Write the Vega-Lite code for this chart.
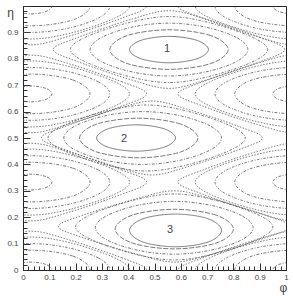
{
"$schema":"https://vega.github.io/schema/vega-lite/v6.json",
"width":263,"height":264,
"autosize":{"type":"none"},
"padding":{"left":23,"top":6,"right":7,"bottom":29},
"background":"white",
"config":{"view":{"stroke":"#222","strokeWidth":1},"font":"Liberation Sans"},
"datasets":{
"contours":[
{"ring":"P1-1","lev":1,"i":0,"phi":0.705,"eta":0.835},{"ring":"P1-1","lev":1,"i":1,"phi":0.661,"eta":0.87},{"ring":"P1-1","lev":1,"i":2,"phi":0.555,"eta":0.885},{"ring":"P1-1","lev":1,"i":3,"phi":0.449,"eta":0.87},{"ring":"P1-1","lev":1,"i":4,"phi":0.405,"eta":0.835},{"ring":"P1-1","lev":1,"i":5,"phi":0.449,"eta":0.8},{"ring":"P1-1","lev":1,"i":6,"phi":0.555,"eta":0.785},{"ring":"P1-1","lev":1,"i":7,"phi":0.661,"eta":0.8},
{"ring":"P1-2","lev":2,"i":0,"phi":0.78,"eta":0.835},{"ring":"P1-2","lev":2,"i":1,"phi":0.714,"eta":0.888},{"ring":"P1-2","lev":2,"i":2,"phi":0.555,"eta":0.91},{"ring":"P1-2","lev":2,"i":3,"phi":0.396,"eta":0.888},{"ring":"P1-2","lev":2,"i":4,"phi":0.33,"eta":0.835},{"ring":"P1-2","lev":2,"i":5,"phi":0.396,"eta":0.782},{"ring":"P1-2","lev":2,"i":6,"phi":0.555,"eta":0.76},{"ring":"P1-2","lev":2,"i":7,"phi":0.714,"eta":0.782},
{"ring":"P1-3","lev":3,"i":0,"phi":0.855,"eta":0.835},{"ring":"P1-3","lev":3,"i":1,"phi":0.811,"eta":0.881},{"ring":"P1-3","lev":3,"i":2,"phi":0.694,"eta":0.92},{"ring":"P1-3","lev":3,"i":3,"phi":0.555,"eta":0.935},{"ring":"P1-3","lev":3,"i":4,"phi":0.416,"eta":0.92},{"ring":"P1-3","lev":3,"i":5,"phi":0.299,"eta":0.881},{"ring":"P1-3","lev":3,"i":6,"phi":0.255,"eta":0.835},{"ring":"P1-3","lev":3,"i":7,"phi":0.299,"eta":0.789},{"ring":"P1-3","lev":3,"i":8,"phi":0.416,"eta":0.75},{"ring":"P1-3","lev":3,"i":9,"phi":0.555,"eta":0.735},{"ring":"P1-3","lev":3,"i":10,"phi":0.694,"eta":0.75},{"ring":"P1-3","lev":3,"i":11,"phi":0.811,"eta":0.789},
{"ring":"P1-4","lev":4,"i":0,"phi":0.93,"eta":0.835},{"ring":"P1-4","lev":4,"i":1,"phi":0.865,"eta":0.885},{"ring":"P1-4","lev":4,"i":2,"phi":0.704,"eta":0.938},{"ring":"P1-4","lev":4,"i":3,"phi":0.555,"eta":0.96},{"ring":"P1-4","lev":4,"i":4,"phi":0.406,"eta":0.938},{"ring":"P1-4","lev":4,"i":5,"phi":0.245,"eta":0.885},{"ring":"P1-4","lev":4,"i":6,"phi":0.18,"eta":0.835},{"ring":"P1-4","lev":4,"i":7,"phi":0.245,"eta":0.785},{"ring":"P1-4","lev":4,"i":8,"phi":0.406,"eta":0.732},{"ring":"P1-4","lev":4,"i":9,"phi":0.555,"eta":0.71},{"ring":"P1-4","lev":4,"i":10,"phi":0.704,"eta":0.732},{"ring":"P1-4","lev":4,"i":11,"phi":0.865,"eta":0.785},
{"ring":"P1-5","lev":5,"i":0,"phi":0.995,"eta":0.835},{"ring":"P1-5","lev":5,"i":1,"phi":0.901,"eta":0.881},{"ring":"P1-5","lev":5,"i":2,"phi":0.694,"eta":0.951},{"ring":"P1-5","lev":5,"i":3,"phi":0.555,"eta":0.982},{"ring":"P1-5","lev":5,"i":4,"phi":0.416,"eta":0.951},{"ring":"P1-5","lev":5,"i":5,"phi":0.209,"eta":0.881},{"ring":"P1-5","lev":5,"i":6,"phi":0.115,"eta":0.835},{"ring":"P1-5","lev":5,"i":7,"phi":0.209,"eta":0.789},{"ring":"P1-5","lev":5,"i":8,"phi":0.416,"eta":0.719},{"ring":"P1-5","lev":5,"i":9,"phi":0.555,"eta":0.688},{"ring":"P1-5","lev":5,"i":10,"phi":0.694,"eta":0.719},{"ring":"P1-5","lev":5,"i":11,"phi":0.901,"eta":0.789},
{"ring":"P2-1","lev":1,"i":0,"phi":0.58,"eta":0.5},{"ring":"P2-1","lev":1,"i":1,"phi":0.536,"eta":0.535},{"ring":"P2-1","lev":1,"i":2,"phi":0.43,"eta":0.55},{"ring":"P2-1","lev":1,"i":3,"phi":0.324,"eta":0.535},{"ring":"P2-1","lev":1,"i":4,"phi":0.28,"eta":0.5},{"ring":"P2-1","lev":1,"i":5,"phi":0.324,"eta":0.465},{"ring":"P2-1","lev":1,"i":6,"phi":0.43,"eta":0.45},{"ring":"P2-1","lev":1,"i":7,"phi":0.536,"eta":0.465},
{"ring":"P2-2","lev":2,"i":0,"phi":0.665,"eta":0.5},{"ring":"P2-2","lev":2,"i":1,"phi":0.599,"eta":0.553},{"ring":"P2-2","lev":2,"i":2,"phi":0.44,"eta":0.575},{"ring":"P2-2","lev":2,"i":3,"phi":0.281,"eta":0.553},{"ring":"P2-2","lev":2,"i":4,"phi":0.215,"eta":0.5},{"ring":"P2-2","lev":2,"i":5,"phi":0.281,"eta":0.447},{"ring":"P2-2","lev":2,"i":6,"phi":0.44,"eta":0.425},{"ring":"P2-2","lev":2,"i":7,"phi":0.599,"eta":0.447},
{"ring":"P2-3","lev":3,"i":0,"phi":0.755,"eta":0.5},{"ring":"P2-3","lev":3,"i":1,"phi":0.711,"eta":0.546},{"ring":"P2-3","lev":3,"i":2,"phi":0.594,"eta":0.585},{"ring":"P2-3","lev":3,"i":3,"phi":0.455,"eta":0.6},{"ring":"P2-3","lev":3,"i":4,"phi":0.316,"eta":0.585},{"ring":"P2-3","lev":3,"i":5,"phi":0.199,"eta":0.546},{"ring":"P2-3","lev":3,"i":6,"phi":0.155,"eta":0.5},{"ring":"P2-3","lev":3,"i":7,"phi":0.199,"eta":0.454},{"ring":"P2-3","lev":3,"i":8,"phi":0.316,"eta":0.415},{"ring":"P2-3","lev":3,"i":9,"phi":0.455,"eta":0.4},{"ring":"P2-3","lev":3,"i":10,"phi":0.594,"eta":0.415},{"ring":"P2-3","lev":3,"i":11,"phi":0.711,"eta":0.454},
{"ring":"P2-4","lev":4,"i":0,"phi":0.845,"eta":0.5},{"ring":"P2-4","lev":4,"i":1,"phi":0.78,"eta":0.55},{"ring":"P2-4","lev":4,"i":2,"phi":0.619,"eta":0.603},{"ring":"P2-4","lev":4,"i":3,"phi":0.47,"eta":0.625},{"ring":"P2-4","lev":4,"i":4,"phi":0.321,"eta":0.603},{"ring":"P2-4","lev":4,"i":5,"phi":0.16,"eta":0.55},{"ring":"P2-4","lev":4,"i":6,"phi":0.095,"eta":0.5},{"ring":"P2-4","lev":4,"i":7,"phi":0.16,"eta":0.45},{"ring":"P2-4","lev":4,"i":8,"phi":0.321,"eta":0.397},{"ring":"P2-4","lev":4,"i":9,"phi":0.47,"eta":0.375},{"ring":"P2-4","lev":4,"i":10,"phi":0.619,"eta":0.397},{"ring":"P2-4","lev":4,"i":11,"phi":0.78,"eta":0.45},
{"ring":"P2-5","lev":5,"i":0,"phi":0.91,"eta":0.5},{"ring":"P2-5","lev":5,"i":1,"phi":0.82,"eta":0.544},{"ring":"P2-5","lev":5,"i":2,"phi":0.622,"eta":0.61},{"ring":"P2-5","lev":5,"i":3,"phi":0.49,"eta":0.64},{"ring":"P2-5","lev":5,"i":4,"phi":0.358,"eta":0.61},{"ring":"P2-5","lev":5,"i":5,"phi":0.16,"eta":0.544},{"ring":"P2-5","lev":5,"i":6,"phi":0.07,"eta":0.5},{"ring":"P2-5","lev":5,"i":7,"phi":0.16,"eta":0.456},{"ring":"P2-5","lev":5,"i":8,"phi":0.358,"eta":0.39},{"ring":"P2-5","lev":5,"i":9,"phi":0.49,"eta":0.36},{"ring":"P2-5","lev":5,"i":10,"phi":0.622,"eta":0.39},{"ring":"P2-5","lev":5,"i":11,"phi":0.82,"eta":0.456},
{"ring":"P3-1","lev":1,"i":0,"phi":0.755,"eta":0.15},{"ring":"P3-1","lev":1,"i":1,"phi":0.704,"eta":0.194},{"ring":"P3-1","lev":1,"i":2,"phi":0.58,"eta":0.212},{"ring":"P3-1","lev":1,"i":3,"phi":0.456,"eta":0.194},{"ring":"P3-1","lev":1,"i":4,"phi":0.405,"eta":0.15},{"ring":"P3-1","lev":1,"i":5,"phi":0.456,"eta":0.106},{"ring":"P3-1","lev":1,"i":6,"phi":0.58,"eta":0.088},{"ring":"P3-1","lev":1,"i":7,"phi":0.704,"eta":0.106},
{"ring":"P3-2","lev":2,"i":0,"phi":0.8,"eta":0.155},{"ring":"P3-2","lev":2,"i":1,"phi":0.734,"eta":0.208},{"ring":"P3-2","lev":2,"i":2,"phi":0.575,"eta":0.23},{"ring":"P3-2","lev":2,"i":3,"phi":0.416,"eta":0.208},{"ring":"P3-2","lev":2,"i":4,"phi":0.35,"eta":0.155},{"ring":"P3-2","lev":2,"i":5,"phi":0.416,"eta":0.102},{"ring":"P3-2","lev":2,"i":6,"phi":0.575,"eta":0.08},{"ring":"P3-2","lev":2,"i":7,"phi":0.734,"eta":0.102},
{"ring":"P3-3","lev":3,"i":0,"phi":0.875,"eta":0.16},{"ring":"P3-3","lev":3,"i":1,"phi":0.831,"eta":0.206},{"ring":"P3-3","lev":3,"i":2,"phi":0.714,"eta":0.245},{"ring":"P3-3","lev":3,"i":3,"phi":0.575,"eta":0.26},{"ring":"P3-3","lev":3,"i":4,"phi":0.436,"eta":0.245},{"ring":"P3-3","lev":3,"i":5,"phi":0.319,"eta":0.206},{"ring":"P3-3","lev":3,"i":6,"phi":0.275,"eta":0.16},{"ring":"P3-3","lev":3,"i":7,"phi":0.319,"eta":0.114},{"ring":"P3-3","lev":3,"i":8,"phi":0.436,"eta":0.075},{"ring":"P3-3","lev":3,"i":9,"phi":0.575,"eta":0.06},{"ring":"P3-3","lev":3,"i":10,"phi":0.714,"eta":0.075},{"ring":"P3-3","lev":3,"i":11,"phi":0.831,"eta":0.114},
{"ring":"P3-4","lev":4,"i":0,"phi":0.95,"eta":0.163},{"ring":"P3-4","lev":4,"i":1,"phi":0.885,"eta":0.213},{"ring":"P3-4","lev":4,"i":2,"phi":0.724,"eta":0.266},{"ring":"P3-4","lev":4,"i":3,"phi":0.575,"eta":0.288},{"ring":"P3-4","lev":4,"i":4,"phi":0.426,"eta":0.266},{"ring":"P3-4","lev":4,"i":5,"phi":0.265,"eta":0.213},{"ring":"P3-4","lev":4,"i":6,"phi":0.2,"eta":0.163},{"ring":"P3-4","lev":4,"i":7,"phi":0.265,"eta":0.113},{"ring":"P3-4","lev":4,"i":8,"phi":0.426,"eta":0.06},{"ring":"P3-4","lev":4,"i":9,"phi":0.575,"eta":0.038},{"ring":"P3-4","lev":4,"i":10,"phi":0.724,"eta":0.06},{"ring":"P3-4","lev":4,"i":11,"phi":0.885,"eta":0.113},
{"ring":"P3-5","lev":5,"i":0,"phi":1.015,"eta":0.165},{"ring":"P3-5","lev":5,"i":1,"phi":0.921,"eta":0.208},{"ring":"P3-5","lev":5,"i":2,"phi":0.714,"eta":0.271},{"ring":"P3-5","lev":5,"i":3,"phi":0.575,"eta":0.3},{"ring":"P3-5","lev":5,"i":4,"phi":0.436,"eta":0.271},{"ring":"P3-5","lev":5,"i":5,"phi":0.229,"eta":0.208},{"ring":"P3-5","lev":5,"i":6,"phi":0.135,"eta":0.165},{"ring":"P3-5","lev":5,"i":7,"phi":0.229,"eta":0.122},{"ring":"P3-5","lev":5,"i":8,"phi":0.436,"eta":0.059},{"ring":"P3-5","lev":5,"i":9,"phi":0.575,"eta":0.03},{"ring":"P3-5","lev":5,"i":10,"phi":0.714,"eta":0.059},{"ring":"P3-5","lev":5,"i":11,"phi":0.921,"eta":0.122},
{"ring":"QaL-1","lev":3,"i":0,"phi":0.11,"eta":0},{"ring":"QaL-1","lev":3,"i":1,"phi":0.087,"eta":0.021},{"ring":"QaL-1","lev":3,"i":2,"phi":0.03,"eta":0.03},{"ring":"QaL-1","lev":3,"i":3,"phi":-0.027,"eta":0.021},{"ring":"QaL-1","lev":3,"i":4,"phi":-0.05,"eta":0},{"ring":"QaL-1","lev":3,"i":5,"phi":-0.027,"eta":-0.021},{"ring":"QaL-1","lev":3,"i":6,"phi":0.03,"eta":-0.03},{"ring":"QaL-1","lev":3,"i":7,"phi":0.087,"eta":-0.021},
{"ring":"QaL-2","lev":3,"i":0,"phi":0.255,"eta":0},{"ring":"QaL-2","lev":3,"i":1,"phi":0.189,"eta":0.053},{"ring":"QaL-2","lev":3,"i":2,"phi":0.03,"eta":0.075},{"ring":"QaL-2","lev":3,"i":3,"phi":-0.129,"eta":0.053},{"ring":"QaL-2","lev":3,"i":4,"phi":-0.195,"eta":0},{"ring":"QaL-2","lev":3,"i":5,"phi":-0.129,"eta":-0.053},{"ring":"QaL-2","lev":3,"i":6,"phi":0.03,"eta":-0.075},{"ring":"QaL-2","lev":3,"i":7,"phi":0.189,"eta":-0.053},
{"ring":"QaL-3","lev":4,"i":0,"phi":0.33,"eta":0},{"ring":"QaL-3","lev":4,"i":1,"phi":0.286,"eta":0.046},{"ring":"QaL-3","lev":4,"i":2,"phi":0.169,"eta":0.085},{"ring":"QaL-3","lev":4,"i":3,"phi":0.03,"eta":0.1},{"ring":"QaL-3","lev":4,"i":4,"phi":-0.109,"eta":0.085},{"ring":"QaL-3","lev":4,"i":5,"phi":-0.226,"eta":0.046},{"ring":"QaL-3","lev":4,"i":6,"phi":-0.27,"eta":0},{"ring":"QaL-3","lev":4,"i":7,"phi":-0.226,"eta":-0.046},{"ring":"QaL-3","lev":4,"i":8,"phi":-0.109,"eta":-0.085},{"ring":"QaL-3","lev":4,"i":9,"phi":0.03,"eta":-0.1},{"ring":"QaL-3","lev":4,"i":10,"phi":0.169,"eta":-0.085},{"ring":"QaL-3","lev":4,"i":11,"phi":0.286,"eta":-0.046},
{"ring":"QaL-4","lev":5,"i":0,"phi":0.405,"eta":0},{"ring":"QaL-4","lev":5,"i":1,"phi":0.34,"eta":0.05},{"ring":"QaL-4","lev":5,"i":2,"phi":0.179,"eta":0.103},{"ring":"QaL-4","lev":5,"i":3,"phi":0.03,"eta":0.125},{"ring":"QaL-4","lev":5,"i":4,"phi":-0.119,"eta":0.103},{"ring":"QaL-4","lev":5,"i":5,"phi":-0.28,"eta":0.05},{"ring":"QaL-4","lev":5,"i":6,"phi":-0.345,"eta":0},{"ring":"QaL-4","lev":5,"i":7,"phi":-0.28,"eta":-0.05},{"ring":"QaL-4","lev":5,"i":8,"phi":-0.119,"eta":-0.103},{"ring":"QaL-4","lev":5,"i":9,"phi":0.03,"eta":-0.125},{"ring":"QaL-4","lev":5,"i":10,"phi":0.179,"eta":-0.103},{"ring":"QaL-4","lev":5,"i":11,"phi":0.34,"eta":-0.05},
{"ring":"QaL-5","lev":5,"i":0,"phi":0.47,"eta":0},{"ring":"QaL-5","lev":5,"i":1,"phi":0.376,"eta":0.046},{"ring":"QaL-5","lev":5,"i":2,"phi":0.169,"eta":0.116},{"ring":"QaL-5","lev":5,"i":3,"phi":0.03,"eta":0.147},{"ring":"QaL-5","lev":5,"i":4,"phi":-0.109,"eta":0.116},{"ring":"QaL-5","lev":5,"i":5,"phi":-0.316,"eta":0.046},{"ring":"QaL-5","lev":5,"i":6,"phi":-0.41,"eta":0},{"ring":"QaL-5","lev":5,"i":7,"phi":-0.316,"eta":-0.046},{"ring":"QaL-5","lev":5,"i":8,"phi":-0.109,"eta":-0.116},{"ring":"QaL-5","lev":5,"i":9,"phi":0.03,"eta":-0.147},{"ring":"QaL-5","lev":5,"i":10,"phi":0.169,"eta":-0.116},{"ring":"QaL-5","lev":5,"i":11,"phi":0.376,"eta":-0.046},
{"ring":"QbL-1","lev":3,"i":0,"phi":0.11,"eta":0.333},{"ring":"QbL-1","lev":3,"i":1,"phi":0.087,"eta":0.354},{"ring":"QbL-1","lev":3,"i":2,"phi":0.03,"eta":0.363},{"ring":"QbL-1","lev":3,"i":3,"phi":-0.027,"eta":0.354},{"ring":"QbL-1","lev":3,"i":4,"phi":-0.05,"eta":0.333},{"ring":"QbL-1","lev":3,"i":5,"phi":-0.027,"eta":0.312},{"ring":"QbL-1","lev":3,"i":6,"phi":0.03,"eta":0.303},{"ring":"QbL-1","lev":3,"i":7,"phi":0.087,"eta":0.312},
{"ring":"QbL-2","lev":3,"i":0,"phi":0.255,"eta":0.333},{"ring":"QbL-2","lev":3,"i":1,"phi":0.189,"eta":0.386},{"ring":"QbL-2","lev":3,"i":2,"phi":0.03,"eta":0.408},{"ring":"QbL-2","lev":3,"i":3,"phi":-0.129,"eta":0.386},{"ring":"QbL-2","lev":3,"i":4,"phi":-0.195,"eta":0.333},{"ring":"QbL-2","lev":3,"i":5,"phi":-0.129,"eta":0.28},{"ring":"QbL-2","lev":3,"i":6,"phi":0.03,"eta":0.258},{"ring":"QbL-2","lev":3,"i":7,"phi":0.189,"eta":0.28},
{"ring":"QbL-3","lev":4,"i":0,"phi":0.33,"eta":0.333},{"ring":"QbL-3","lev":4,"i":1,"phi":0.286,"eta":0.379},{"ring":"QbL-3","lev":4,"i":2,"phi":0.169,"eta":0.418},{"ring":"QbL-3","lev":4,"i":3,"phi":0.03,"eta":0.433},{"ring":"QbL-3","lev":4,"i":4,"phi":-0.109,"eta":0.418},{"ring":"QbL-3","lev":4,"i":5,"phi":-0.226,"eta":0.379},{"ring":"QbL-3","lev":4,"i":6,"phi":-0.27,"eta":0.333},{"ring":"QbL-3","lev":4,"i":7,"phi":-0.226,"eta":0.287},{"ring":"QbL-3","lev":4,"i":8,"phi":-0.109,"eta":0.248},{"ring":"QbL-3","lev":4,"i":9,"phi":0.03,"eta":0.233},{"ring":"QbL-3","lev":4,"i":10,"phi":0.169,"eta":0.248},{"ring":"QbL-3","lev":4,"i":11,"phi":0.286,"eta":0.287},
{"ring":"QbL-4","lev":5,"i":0,"phi":0.405,"eta":0.333},{"ring":"QbL-4","lev":5,"i":1,"phi":0.34,"eta":0.383},{"ring":"QbL-4","lev":5,"i":2,"phi":0.179,"eta":0.436},{"ring":"QbL-4","lev":5,"i":3,"phi":0.03,"eta":0.458},{"ring":"QbL-4","lev":5,"i":4,"phi":-0.119,"eta":0.436},{"ring":"QbL-4","lev":5,"i":5,"phi":-0.28,"eta":0.383},{"ring":"QbL-4","lev":5,"i":6,"phi":-0.345,"eta":0.333},{"ring":"QbL-4","lev":5,"i":7,"phi":-0.28,"eta":0.283},{"ring":"QbL-4","lev":5,"i":8,"phi":-0.119,"eta":0.23},{"ring":"QbL-4","lev":5,"i":9,"phi":0.03,"eta":0.208},{"ring":"QbL-4","lev":5,"i":10,"phi":0.179,"eta":0.23},{"ring":"QbL-4","lev":5,"i":11,"phi":0.34,"eta":0.283},
{"ring":"QbL-5","lev":5,"i":0,"phi":0.47,"eta":0.333},{"ring":"QbL-5","lev":5,"i":1,"phi":0.376,"eta":0.379},{"ring":"QbL-5","lev":5,"i":2,"phi":0.169,"eta":0.449},{"ring":"QbL-5","lev":5,"i":3,"phi":0.03,"eta":0.48},{"ring":"QbL-5","lev":5,"i":4,"phi":-0.109,"eta":0.449},{"ring":"QbL-5","lev":5,"i":5,"phi":-0.316,"eta":0.379},{"ring":"QbL-5","lev":5,"i":6,"phi":-0.41,"eta":0.333},{"ring":"QbL-5","lev":5,"i":7,"phi":-0.316,"eta":0.287},{"ring":"QbL-5","lev":5,"i":8,"phi":-0.109,"eta":0.217},{"ring":"QbL-5","lev":5,"i":9,"phi":0.03,"eta":0.186},{"ring":"QbL-5","lev":5,"i":10,"phi":0.169,"eta":0.217},{"ring":"QbL-5","lev":5,"i":11,"phi":0.376,"eta":0.287},
{"ring":"QcL-1","lev":3,"i":0,"phi":0.11,"eta":0.667},{"ring":"QcL-1","lev":3,"i":1,"phi":0.087,"eta":0.688},{"ring":"QcL-1","lev":3,"i":2,"phi":0.03,"eta":0.697},{"ring":"QcL-1","lev":3,"i":3,"phi":-0.027,"eta":0.688},{"ring":"QcL-1","lev":3,"i":4,"phi":-0.05,"eta":0.667},{"ring":"QcL-1","lev":3,"i":5,"phi":-0.027,"eta":0.646},{"ring":"QcL-1","lev":3,"i":6,"phi":0.03,"eta":0.637},{"ring":"QcL-1","lev":3,"i":7,"phi":0.087,"eta":0.646},
{"ring":"QcL-2","lev":3,"i":0,"phi":0.255,"eta":0.667},{"ring":"QcL-2","lev":3,"i":1,"phi":0.189,"eta":0.72},{"ring":"QcL-2","lev":3,"i":2,"phi":0.03,"eta":0.742},{"ring":"QcL-2","lev":3,"i":3,"phi":-0.129,"eta":0.72},{"ring":"QcL-2","lev":3,"i":4,"phi":-0.195,"eta":0.667},{"ring":"QcL-2","lev":3,"i":5,"phi":-0.129,"eta":0.614},{"ring":"QcL-2","lev":3,"i":6,"phi":0.03,"eta":0.592},{"ring":"QcL-2","lev":3,"i":7,"phi":0.189,"eta":0.614},
{"ring":"QcL-3","lev":4,"i":0,"phi":0.33,"eta":0.667},{"ring":"QcL-3","lev":4,"i":1,"phi":0.286,"eta":0.713},{"ring":"QcL-3","lev":4,"i":2,"phi":0.169,"eta":0.752},{"ring":"QcL-3","lev":4,"i":3,"phi":0.03,"eta":0.767},{"ring":"QcL-3","lev":4,"i":4,"phi":-0.109,"eta":0.752},{"ring":"QcL-3","lev":4,"i":5,"phi":-0.226,"eta":0.713},{"ring":"QcL-3","lev":4,"i":6,"phi":-0.27,"eta":0.667},{"ring":"QcL-3","lev":4,"i":7,"phi":-0.226,"eta":0.621},{"ring":"QcL-3","lev":4,"i":8,"phi":-0.109,"eta":0.582},{"ring":"QcL-3","lev":4,"i":9,"phi":0.03,"eta":0.567},{"ring":"QcL-3","lev":4,"i":10,"phi":0.169,"eta":0.582},{"ring":"QcL-3","lev":4,"i":11,"phi":0.286,"eta":0.621},
{"ring":"QcL-4","lev":5,"i":0,"phi":0.405,"eta":0.667},{"ring":"QcL-4","lev":5,"i":1,"phi":0.34,"eta":0.717},{"ring":"QcL-4","lev":5,"i":2,"phi":0.179,"eta":0.77},{"ring":"QcL-4","lev":5,"i":3,"phi":0.03,"eta":0.792},{"ring":"QcL-4","lev":5,"i":4,"phi":-0.119,"eta":0.77},{"ring":"QcL-4","lev":5,"i":5,"phi":-0.28,"eta":0.717},{"ring":"QcL-4","lev":5,"i":6,"phi":-0.345,"eta":0.667},{"ring":"QcL-4","lev":5,"i":7,"phi":-0.28,"eta":0.617},{"ring":"QcL-4","lev":5,"i":8,"phi":-0.119,"eta":0.564},{"ring":"QcL-4","lev":5,"i":9,"phi":0.03,"eta":0.542},{"ring":"QcL-4","lev":5,"i":10,"phi":0.179,"eta":0.564},{"ring":"QcL-4","lev":5,"i":11,"phi":0.34,"eta":0.617},
{"ring":"QcL-5","lev":5,"i":0,"phi":0.47,"eta":0.667},{"ring":"QcL-5","lev":5,"i":1,"phi":0.376,"eta":0.713},{"ring":"QcL-5","lev":5,"i":2,"phi":0.169,"eta":0.783},{"ring":"QcL-5","lev":5,"i":3,"phi":0.03,"eta":0.814},{"ring":"QcL-5","lev":5,"i":4,"phi":-0.109,"eta":0.783},{"ring":"QcL-5","lev":5,"i":5,"phi":-0.316,"eta":0.713},{"ring":"QcL-5","lev":5,"i":6,"phi":-0.41,"eta":0.667},{"ring":"QcL-5","lev":5,"i":7,"phi":-0.316,"eta":0.621},{"ring":"QcL-5","lev":5,"i":8,"phi":-0.109,"eta":0.551},{"ring":"QcL-5","lev":5,"i":9,"phi":0.03,"eta":0.52},{"ring":"QcL-5","lev":5,"i":10,"phi":0.169,"eta":0.551},{"ring":"QcL-5","lev":5,"i":11,"phi":0.376,"eta":0.621},
{"ring":"QdL-1","lev":3,"i":0,"phi":0.11,"eta":1},{"ring":"QdL-1","lev":3,"i":1,"phi":0.087,"eta":1.021},{"ring":"QdL-1","lev":3,"i":2,"phi":0.03,"eta":1.03},{"ring":"QdL-1","lev":3,"i":3,"phi":-0.027,"eta":1.021},{"ring":"QdL-1","lev":3,"i":4,"phi":-0.05,"eta":1},{"ring":"QdL-1","lev":3,"i":5,"phi":-0.027,"eta":0.979},{"ring":"QdL-1","lev":3,"i":6,"phi":0.03,"eta":0.97},{"ring":"QdL-1","lev":3,"i":7,"phi":0.087,"eta":0.979},
{"ring":"QdL-2","lev":3,"i":0,"phi":0.255,"eta":1},{"ring":"QdL-2","lev":3,"i":1,"phi":0.189,"eta":1.053},{"ring":"QdL-2","lev":3,"i":2,"phi":0.03,"eta":1.075},{"ring":"QdL-2","lev":3,"i":3,"phi":-0.129,"eta":1.053},{"ring":"QdL-2","lev":3,"i":4,"phi":-0.195,"eta":1},{"ring":"QdL-2","lev":3,"i":5,"phi":-0.129,"eta":0.947},{"ring":"QdL-2","lev":3,"i":6,"phi":0.03,"eta":0.925},{"ring":"QdL-2","lev":3,"i":7,"phi":0.189,"eta":0.947},
{"ring":"QdL-3","lev":4,"i":0,"phi":0.33,"eta":1},{"ring":"QdL-3","lev":4,"i":1,"phi":0.286,"eta":1.046},{"ring":"QdL-3","lev":4,"i":2,"phi":0.169,"eta":1.085},{"ring":"QdL-3","lev":4,"i":3,"phi":0.03,"eta":1.1},{"ring":"QdL-3","lev":4,"i":4,"phi":-0.109,"eta":1.085},{"ring":"QdL-3","lev":4,"i":5,"phi":-0.226,"eta":1.046},{"ring":"QdL-3","lev":4,"i":6,"phi":-0.27,"eta":1},{"ring":"QdL-3","lev":4,"i":7,"phi":-0.226,"eta":0.954},{"ring":"QdL-3","lev":4,"i":8,"phi":-0.109,"eta":0.915},{"ring":"QdL-3","lev":4,"i":9,"phi":0.03,"eta":0.9},{"ring":"QdL-3","lev":4,"i":10,"phi":0.169,"eta":0.915},{"ring":"QdL-3","lev":4,"i":11,"phi":0.286,"eta":0.954},
{"ring":"QdL-4","lev":5,"i":0,"phi":0.405,"eta":1},{"ring":"QdL-4","lev":5,"i":1,"phi":0.34,"eta":1.05},{"ring":"QdL-4","lev":5,"i":2,"phi":0.179,"eta":1.103},{"ring":"QdL-4","lev":5,"i":3,"phi":0.03,"eta":1.125},{"ring":"QdL-4","lev":5,"i":4,"phi":-0.119,"eta":1.103},{"ring":"QdL-4","lev":5,"i":5,"phi":-0.28,"eta":1.05},{"ring":"QdL-4","lev":5,"i":6,"phi":-0.345,"eta":1},{"ring":"QdL-4","lev":5,"i":7,"phi":-0.28,"eta":0.95},{"ring":"QdL-4","lev":5,"i":8,"phi":-0.119,"eta":0.897},{"ring":"QdL-4","lev":5,"i":9,"phi":0.03,"eta":0.875},{"ring":"QdL-4","lev":5,"i":10,"phi":0.179,"eta":0.897},{"ring":"QdL-4","lev":5,"i":11,"phi":0.34,"eta":0.95},
{"ring":"QdL-5","lev":5,"i":0,"phi":0.47,"eta":1},{"ring":"QdL-5","lev":5,"i":1,"phi":0.376,"eta":1.046},{"ring":"QdL-5","lev":5,"i":2,"phi":0.169,"eta":1.116},{"ring":"QdL-5","lev":5,"i":3,"phi":0.03,"eta":1.147},{"ring":"QdL-5","lev":5,"i":4,"phi":-0.109,"eta":1.116},{"ring":"QdL-5","lev":5,"i":5,"phi":-0.316,"eta":1.046},{"ring":"QdL-5","lev":5,"i":6,"phi":-0.41,"eta":1},{"ring":"QdL-5","lev":5,"i":7,"phi":-0.316,"eta":0.954},{"ring":"QdL-5","lev":5,"i":8,"phi":-0.109,"eta":0.884},{"ring":"QdL-5","lev":5,"i":9,"phi":0.03,"eta":0.853},{"ring":"QdL-5","lev":5,"i":10,"phi":0.169,"eta":0.884},{"ring":"QdL-5","lev":5,"i":11,"phi":0.376,"eta":0.954},
{"ring":"QaR-1","lev":3,"i":0,"phi":1.11,"eta":0},{"ring":"QaR-1","lev":3,"i":1,"phi":1.087,"eta":0.021},{"ring":"QaR-1","lev":3,"i":2,"phi":1.03,"eta":0.03},{"ring":"QaR-1","lev":3,"i":3,"phi":0.973,"eta":0.021},{"ring":"QaR-1","lev":3,"i":4,"phi":0.95,"eta":0},{"ring":"QaR-1","lev":3,"i":5,"phi":0.973,"eta":-0.021},{"ring":"QaR-1","lev":3,"i":6,"phi":1.03,"eta":-0.03},{"ring":"QaR-1","lev":3,"i":7,"phi":1.087,"eta":-0.021},
{"ring":"QaR-2","lev":3,"i":0,"phi":1.255,"eta":0},{"ring":"QaR-2","lev":3,"i":1,"phi":1.189,"eta":0.053},{"ring":"QaR-2","lev":3,"i":2,"phi":1.03,"eta":0.075},{"ring":"QaR-2","lev":3,"i":3,"phi":0.871,"eta":0.053},{"ring":"QaR-2","lev":3,"i":4,"phi":0.805,"eta":0},{"ring":"QaR-2","lev":3,"i":5,"phi":0.871,"eta":-0.053},{"ring":"QaR-2","lev":3,"i":6,"phi":1.03,"eta":-0.075},{"ring":"QaR-2","lev":3,"i":7,"phi":1.189,"eta":-0.053},
{"ring":"QaR-3","lev":4,"i":0,"phi":1.33,"eta":0},{"ring":"QaR-3","lev":4,"i":1,"phi":1.286,"eta":0.046},{"ring":"QaR-3","lev":4,"i":2,"phi":1.169,"eta":0.085},{"ring":"QaR-3","lev":4,"i":3,"phi":1.03,"eta":0.1},{"ring":"QaR-3","lev":4,"i":4,"phi":0.891,"eta":0.085},{"ring":"QaR-3","lev":4,"i":5,"phi":0.774,"eta":0.046},{"ring":"QaR-3","lev":4,"i":6,"phi":0.73,"eta":0},{"ring":"QaR-3","lev":4,"i":7,"phi":0.774,"eta":-0.046},{"ring":"QaR-3","lev":4,"i":8,"phi":0.891,"eta":-0.085},{"ring":"QaR-3","lev":4,"i":9,"phi":1.03,"eta":-0.1},{"ring":"QaR-3","lev":4,"i":10,"phi":1.169,"eta":-0.085},{"ring":"QaR-3","lev":4,"i":11,"phi":1.286,"eta":-0.046},
{"ring":"QaR-4","lev":5,"i":0,"phi":1.405,"eta":0},{"ring":"QaR-4","lev":5,"i":1,"phi":1.34,"eta":0.05},{"ring":"QaR-4","lev":5,"i":2,"phi":1.179,"eta":0.103},{"ring":"QaR-4","lev":5,"i":3,"phi":1.03,"eta":0.125},{"ring":"QaR-4","lev":5,"i":4,"phi":0.881,"eta":0.103},{"ring":"QaR-4","lev":5,"i":5,"phi":0.72,"eta":0.05},{"ring":"QaR-4","lev":5,"i":6,"phi":0.655,"eta":0},{"ring":"QaR-4","lev":5,"i":7,"phi":0.72,"eta":-0.05},{"ring":"QaR-4","lev":5,"i":8,"phi":0.881,"eta":-0.103},{"ring":"QaR-4","lev":5,"i":9,"phi":1.03,"eta":-0.125},{"ring":"QaR-4","lev":5,"i":10,"phi":1.179,"eta":-0.103},{"ring":"QaR-4","lev":5,"i":11,"phi":1.34,"eta":-0.05},
{"ring":"QaR-5","lev":5,"i":0,"phi":1.47,"eta":0},{"ring":"QaR-5","lev":5,"i":1,"phi":1.376,"eta":0.046},{"ring":"QaR-5","lev":5,"i":2,"phi":1.169,"eta":0.116},{"ring":"QaR-5","lev":5,"i":3,"phi":1.03,"eta":0.147},{"ring":"QaR-5","lev":5,"i":4,"phi":0.891,"eta":0.116},{"ring":"QaR-5","lev":5,"i":5,"phi":0.684,"eta":0.046},{"ring":"QaR-5","lev":5,"i":6,"phi":0.59,"eta":0},{"ring":"QaR-5","lev":5,"i":7,"phi":0.684,"eta":-0.046},{"ring":"QaR-5","lev":5,"i":8,"phi":0.891,"eta":-0.116},{"ring":"QaR-5","lev":5,"i":9,"phi":1.03,"eta":-0.147},{"ring":"QaR-5","lev":5,"i":10,"phi":1.169,"eta":-0.116},{"ring":"QaR-5","lev":5,"i":11,"phi":1.376,"eta":-0.046},
{"ring":"QbR-1","lev":3,"i":0,"phi":1.11,"eta":0.333},{"ring":"QbR-1","lev":3,"i":1,"phi":1.087,"eta":0.354},{"ring":"QbR-1","lev":3,"i":2,"phi":1.03,"eta":0.363},{"ring":"QbR-1","lev":3,"i":3,"phi":0.973,"eta":0.354},{"ring":"QbR-1","lev":3,"i":4,"phi":0.95,"eta":0.333},{"ring":"QbR-1","lev":3,"i":5,"phi":0.973,"eta":0.312},{"ring":"QbR-1","lev":3,"i":6,"phi":1.03,"eta":0.303},{"ring":"QbR-1","lev":3,"i":7,"phi":1.087,"eta":0.312},
{"ring":"QbR-2","lev":3,"i":0,"phi":1.255,"eta":0.333},{"ring":"QbR-2","lev":3,"i":1,"phi":1.189,"eta":0.386},{"ring":"QbR-2","lev":3,"i":2,"phi":1.03,"eta":0.408},{"ring":"QbR-2","lev":3,"i":3,"phi":0.871,"eta":0.386},{"ring":"QbR-2","lev":3,"i":4,"phi":0.805,"eta":0.333},{"ring":"QbR-2","lev":3,"i":5,"phi":0.871,"eta":0.28},{"ring":"QbR-2","lev":3,"i":6,"phi":1.03,"eta":0.258},{"ring":"QbR-2","lev":3,"i":7,"phi":1.189,"eta":0.28},
{"ring":"QbR-3","lev":4,"i":0,"phi":1.33,"eta":0.333},{"ring":"QbR-3","lev":4,"i":1,"phi":1.286,"eta":0.379},{"ring":"QbR-3","lev":4,"i":2,"phi":1.169,"eta":0.418},{"ring":"QbR-3","lev":4,"i":3,"phi":1.03,"eta":0.433},{"ring":"QbR-3","lev":4,"i":4,"phi":0.891,"eta":0.418},{"ring":"QbR-3","lev":4,"i":5,"phi":0.774,"eta":0.379},{"ring":"QbR-3","lev":4,"i":6,"phi":0.73,"eta":0.333},{"ring":"QbR-3","lev":4,"i":7,"phi":0.774,"eta":0.287},{"ring":"QbR-3","lev":4,"i":8,"phi":0.891,"eta":0.248},{"ring":"QbR-3","lev":4,"i":9,"phi":1.03,"eta":0.233},{"ring":"QbR-3","lev":4,"i":10,"phi":1.169,"eta":0.248},{"ring":"QbR-3","lev":4,"i":11,"phi":1.286,"eta":0.287},
{"ring":"QbR-4","lev":5,"i":0,"phi":1.405,"eta":0.333},{"ring":"QbR-4","lev":5,"i":1,"phi":1.34,"eta":0.383},{"ring":"QbR-4","lev":5,"i":2,"phi":1.179,"eta":0.436},{"ring":"QbR-4","lev":5,"i":3,"phi":1.03,"eta":0.458},{"ring":"QbR-4","lev":5,"i":4,"phi":0.881,"eta":0.436},{"ring":"QbR-4","lev":5,"i":5,"phi":0.72,"eta":0.383},{"ring":"QbR-4","lev":5,"i":6,"phi":0.655,"eta":0.333},{"ring":"QbR-4","lev":5,"i":7,"phi":0.72,"eta":0.283},{"ring":"QbR-4","lev":5,"i":8,"phi":0.881,"eta":0.23},{"ring":"QbR-4","lev":5,"i":9,"phi":1.03,"eta":0.208},{"ring":"QbR-4","lev":5,"i":10,"phi":1.179,"eta":0.23},{"ring":"QbR-4","lev":5,"i":11,"phi":1.34,"eta":0.283},
{"ring":"QbR-5","lev":5,"i":0,"phi":1.47,"eta":0.333},{"ring":"QbR-5","lev":5,"i":1,"phi":1.376,"eta":0.379},{"ring":"QbR-5","lev":5,"i":2,"phi":1.169,"eta":0.449},{"ring":"QbR-5","lev":5,"i":3,"phi":1.03,"eta":0.48},{"ring":"QbR-5","lev":5,"i":4,"phi":0.891,"eta":0.449},{"ring":"QbR-5","lev":5,"i":5,"phi":0.684,"eta":0.379},{"ring":"QbR-5","lev":5,"i":6,"phi":0.59,"eta":0.333},{"ring":"QbR-5","lev":5,"i":7,"phi":0.684,"eta":0.287},{"ring":"QbR-5","lev":5,"i":8,"phi":0.891,"eta":0.217},{"ring":"QbR-5","lev":5,"i":9,"phi":1.03,"eta":0.186},{"ring":"QbR-5","lev":5,"i":10,"phi":1.169,"eta":0.217},{"ring":"QbR-5","lev":5,"i":11,"phi":1.376,"eta":0.287},
{"ring":"QcR-1","lev":3,"i":0,"phi":1.11,"eta":0.667},{"ring":"QcR-1","lev":3,"i":1,"phi":1.087,"eta":0.688},{"ring":"QcR-1","lev":3,"i":2,"phi":1.03,"eta":0.697},{"ring":"QcR-1","lev":3,"i":3,"phi":0.973,"eta":0.688},{"ring":"QcR-1","lev":3,"i":4,"phi":0.95,"eta":0.667},{"ring":"QcR-1","lev":3,"i":5,"phi":0.973,"eta":0.646},{"ring":"QcR-1","lev":3,"i":6,"phi":1.03,"eta":0.637},{"ring":"QcR-1","lev":3,"i":7,"phi":1.087,"eta":0.646},
{"ring":"QcR-2","lev":3,"i":0,"phi":1.255,"eta":0.667},{"ring":"QcR-2","lev":3,"i":1,"phi":1.189,"eta":0.72},{"ring":"QcR-2","lev":3,"i":2,"phi":1.03,"eta":0.742},{"ring":"QcR-2","lev":3,"i":3,"phi":0.871,"eta":0.72},{"ring":"QcR-2","lev":3,"i":4,"phi":0.805,"eta":0.667},{"ring":"QcR-2","lev":3,"i":5,"phi":0.871,"eta":0.614},{"ring":"QcR-2","lev":3,"i":6,"phi":1.03,"eta":0.592},{"ring":"QcR-2","lev":3,"i":7,"phi":1.189,"eta":0.614},
{"ring":"QcR-3","lev":4,"i":0,"phi":1.33,"eta":0.667},{"ring":"QcR-3","lev":4,"i":1,"phi":1.286,"eta":0.713},{"ring":"QcR-3","lev":4,"i":2,"phi":1.169,"eta":0.752},{"ring":"QcR-3","lev":4,"i":3,"phi":1.03,"eta":0.767},{"ring":"QcR-3","lev":4,"i":4,"phi":0.891,"eta":0.752},{"ring":"QcR-3","lev":4,"i":5,"phi":0.774,"eta":0.713},{"ring":"QcR-3","lev":4,"i":6,"phi":0.73,"eta":0.667},{"ring":"QcR-3","lev":4,"i":7,"phi":0.774,"eta":0.621},{"ring":"QcR-3","lev":4,"i":8,"phi":0.891,"eta":0.582},{"ring":"QcR-3","lev":4,"i":9,"phi":1.03,"eta":0.567},{"ring":"QcR-3","lev":4,"i":10,"phi":1.169,"eta":0.582},{"ring":"QcR-3","lev":4,"i":11,"phi":1.286,"eta":0.621},
{"ring":"QcR-4","lev":5,"i":0,"phi":1.405,"eta":0.667},{"ring":"QcR-4","lev":5,"i":1,"phi":1.34,"eta":0.717},{"ring":"QcR-4","lev":5,"i":2,"phi":1.179,"eta":0.77},{"ring":"QcR-4","lev":5,"i":3,"phi":1.03,"eta":0.792},{"ring":"QcR-4","lev":5,"i":4,"phi":0.881,"eta":0.77},{"ring":"QcR-4","lev":5,"i":5,"phi":0.72,"eta":0.717},{"ring":"QcR-4","lev":5,"i":6,"phi":0.655,"eta":0.667},{"ring":"QcR-4","lev":5,"i":7,"phi":0.72,"eta":0.617},{"ring":"QcR-4","lev":5,"i":8,"phi":0.881,"eta":0.564},{"ring":"QcR-4","lev":5,"i":9,"phi":1.03,"eta":0.542},{"ring":"QcR-4","lev":5,"i":10,"phi":1.179,"eta":0.564},{"ring":"QcR-4","lev":5,"i":11,"phi":1.34,"eta":0.617},
{"ring":"QcR-5","lev":5,"i":0,"phi":1.47,"eta":0.667},{"ring":"QcR-5","lev":5,"i":1,"phi":1.376,"eta":0.713},{"ring":"QcR-5","lev":5,"i":2,"phi":1.169,"eta":0.783},{"ring":"QcR-5","lev":5,"i":3,"phi":1.03,"eta":0.814},{"ring":"QcR-5","lev":5,"i":4,"phi":0.891,"eta":0.783},{"ring":"QcR-5","lev":5,"i":5,"phi":0.684,"eta":0.713},{"ring":"QcR-5","lev":5,"i":6,"phi":0.59,"eta":0.667},{"ring":"QcR-5","lev":5,"i":7,"phi":0.684,"eta":0.621},{"ring":"QcR-5","lev":5,"i":8,"phi":0.891,"eta":0.551},{"ring":"QcR-5","lev":5,"i":9,"phi":1.03,"eta":0.52},{"ring":"QcR-5","lev":5,"i":10,"phi":1.169,"eta":0.551},{"ring":"QcR-5","lev":5,"i":11,"phi":1.376,"eta":0.621},
{"ring":"QdR-1","lev":3,"i":0,"phi":1.11,"eta":1},{"ring":"QdR-1","lev":3,"i":1,"phi":1.087,"eta":1.021},{"ring":"QdR-1","lev":3,"i":2,"phi":1.03,"eta":1.03},{"ring":"QdR-1","lev":3,"i":3,"phi":0.973,"eta":1.021},{"ring":"QdR-1","lev":3,"i":4,"phi":0.95,"eta":1},{"ring":"QdR-1","lev":3,"i":5,"phi":0.973,"eta":0.979},{"ring":"QdR-1","lev":3,"i":6,"phi":1.03,"eta":0.97},{"ring":"QdR-1","lev":3,"i":7,"phi":1.087,"eta":0.979},
{"ring":"QdR-2","lev":3,"i":0,"phi":1.255,"eta":1},{"ring":"QdR-2","lev":3,"i":1,"phi":1.189,"eta":1.053},{"ring":"QdR-2","lev":3,"i":2,"phi":1.03,"eta":1.075},{"ring":"QdR-2","lev":3,"i":3,"phi":0.871,"eta":1.053},{"ring":"QdR-2","lev":3,"i":4,"phi":0.805,"eta":1},{"ring":"QdR-2","lev":3,"i":5,"phi":0.871,"eta":0.947},{"ring":"QdR-2","lev":3,"i":6,"phi":1.03,"eta":0.925},{"ring":"QdR-2","lev":3,"i":7,"phi":1.189,"eta":0.947},
{"ring":"QdR-3","lev":4,"i":0,"phi":1.33,"eta":1},{"ring":"QdR-3","lev":4,"i":1,"phi":1.286,"eta":1.046},{"ring":"QdR-3","lev":4,"i":2,"phi":1.169,"eta":1.085},{"ring":"QdR-3","lev":4,"i":3,"phi":1.03,"eta":1.1},{"ring":"QdR-3","lev":4,"i":4,"phi":0.891,"eta":1.085},{"ring":"QdR-3","lev":4,"i":5,"phi":0.774,"eta":1.046},{"ring":"QdR-3","lev":4,"i":6,"phi":0.73,"eta":1},{"ring":"QdR-3","lev":4,"i":7,"phi":0.774,"eta":0.954},{"ring":"QdR-3","lev":4,"i":8,"phi":0.891,"eta":0.915},{"ring":"QdR-3","lev":4,"i":9,"phi":1.03,"eta":0.9},{"ring":"QdR-3","lev":4,"i":10,"phi":1.169,"eta":0.915},{"ring":"QdR-3","lev":4,"i":11,"phi":1.286,"eta":0.954},
{"ring":"QdR-4","lev":5,"i":0,"phi":1.405,"eta":1},{"ring":"QdR-4","lev":5,"i":1,"phi":1.34,"eta":1.05},{"ring":"QdR-4","lev":5,"i":2,"phi":1.179,"eta":1.103},{"ring":"QdR-4","lev":5,"i":3,"phi":1.03,"eta":1.125},{"ring":"QdR-4","lev":5,"i":4,"phi":0.881,"eta":1.103},{"ring":"QdR-4","lev":5,"i":5,"phi":0.72,"eta":1.05},{"ring":"QdR-4","lev":5,"i":6,"phi":0.655,"eta":1},{"ring":"QdR-4","lev":5,"i":7,"phi":0.72,"eta":0.95},{"ring":"QdR-4","lev":5,"i":8,"phi":0.881,"eta":0.897},{"ring":"QdR-4","lev":5,"i":9,"phi":1.03,"eta":0.875},{"ring":"QdR-4","lev":5,"i":10,"phi":1.179,"eta":0.897},{"ring":"QdR-4","lev":5,"i":11,"phi":1.34,"eta":0.95},
{"ring":"QdR-5","lev":5,"i":0,"phi":1.47,"eta":1},{"ring":"QdR-5","lev":5,"i":1,"phi":1.376,"eta":1.046},{"ring":"QdR-5","lev":5,"i":2,"phi":1.169,"eta":1.116},{"ring":"QdR-5","lev":5,"i":3,"phi":1.03,"eta":1.147},{"ring":"QdR-5","lev":5,"i":4,"phi":0.891,"eta":1.116},{"ring":"QdR-5","lev":5,"i":5,"phi":0.684,"eta":1.046},{"ring":"QdR-5","lev":5,"i":6,"phi":0.59,"eta":1},{"ring":"QdR-5","lev":5,"i":7,"phi":0.684,"eta":0.954},{"ring":"QdR-5","lev":5,"i":8,"phi":0.891,"eta":0.884},{"ring":"QdR-5","lev":5,"i":9,"phi":1.03,"eta":0.853},{"ring":"QdR-5","lev":5,"i":10,"phi":1.169,"eta":0.884},{"ring":"QdR-5","lev":5,"i":11,"phi":1.376,"eta":0.954}
],
"labels":[{"phi":0.548,"eta":0.838,"label":"1"},{"phi":0.384,"eta":0.495,"label":"2"},{"phi":0.559,"eta":0.15,"label":"3"}]
},
"resolve":{"axis":{"x":"independent","y":"independent"}},
"layer":[
{"data":{"name":"contours"},
"mark":{"type":"line","interpolate":"cardinal-closed","clip":true,"strokeWidth":0.8,"color":"#555"},
"encoding":{
"x":{"field":"phi","type":"quantitative","scale":{"domain":[0,1],"nice":false,"zero":false},
"axis":{"orient":"bottom","values":[0,0.1,0.2,0.3,0.4,0.5,0.6,0.7,0.8,0.9,1],"format":".1~f",
"tickSize":-7,"tickColor":"#333","tickWidth":1,"domain":false,"grid":false,
"labelFontSize":8,"labelColor":"#444","labelPadding":10,"labelFlush":false,"labelOverlap":false,
"title":"φ","titleX":260,"titleY":21,"titleAlign":"center","titleBaseline":"alphabetic","titleFontSize":12,"titleFontWeight":"normal","titleColor":"#444"}},
"y":{"field":"eta","type":"quantitative","scale":{"domain":[0,1],"nice":false,"zero":false},
"axis":{"orient":"left","values":[0,0.1,0.2,0.3,0.4,0.5,0.6,0.7,0.8,0.9,1],"format":".1~f",
"labelExpr":"datum.value > 0.99 ? '' : datum.label",
"tickSize":-7,"tickColor":"#333","tickWidth":1,"domain":false,"grid":false,
"labelFontSize":8,"labelColor":"#444","labelPadding":12,"labelFlush":false,"labelOverlap":false,
"title":"η","titleAngle":0,"titleX":-13,"titleY":10,"titleAlign":"center","titleBaseline":"alphabetic","titleFontSize":12,"titleFontWeight":"normal","titleColor":"#444"}},
"detail":{"field":"ring"},
"order":{"field":"i"},
"strokeDash":{"field":"lev","type":"ordinal","scale":{"domain":[1,2,3,4,5],"range":[[1,0],[5,1.5],[3,1.5,1,1.5],[2.5,1.5,1,1.5],[1.5,1.5]]},"legend":null}
}},
{"data":{"name":"labels"},
"mark":{"type":"text","fontSize":11,"color":"#444"},
"encoding":{
"x":{"field":"phi","type":"quantitative","axis":{"orient":"bottom","values":[0,0.02,0.04,0.06,0.08,0.1,0.12,0.14,0.16,0.18,0.2,0.22,0.24,0.26,0.28,0.3,0.32,0.34,0.36,0.38,0.4,0.42,0.44,0.46,0.48,0.5,0.52,0.54,0.56,0.58,0.6,0.62,0.64,0.66,0.68,0.7,0.72,0.74,0.76,0.78,0.8,0.82,0.84,0.86,0.88,0.9,0.92,0.94,0.96,0.98,1],"tickSize":-4,"tickColor":"#333","tickWidth":1,"labels":false,"domain":false,"grid":false,"title":null}},
"y":{"field":"eta","type":"quantitative","axis":{"orient":"left","values":[0,0.02,0.04,0.06,0.08,0.1,0.12,0.14,0.16,0.18,0.2,0.22,0.24,0.26,0.28,0.3,0.32,0.34,0.36,0.38,0.4,0.42,0.44,0.46,0.48,0.5,0.52,0.54,0.56,0.58,0.6,0.62,0.64,0.66,0.68,0.7,0.72,0.74,0.76,0.78,0.8,0.82,0.84,0.86,0.88,0.9,0.92,0.94,0.96,0.98,1],"tickSize":-4,"tickColor":"#333","tickWidth":1,"labels":false,"domain":false,"grid":false,"title":null}},
"text":{"field":"label"}}}
]
}
